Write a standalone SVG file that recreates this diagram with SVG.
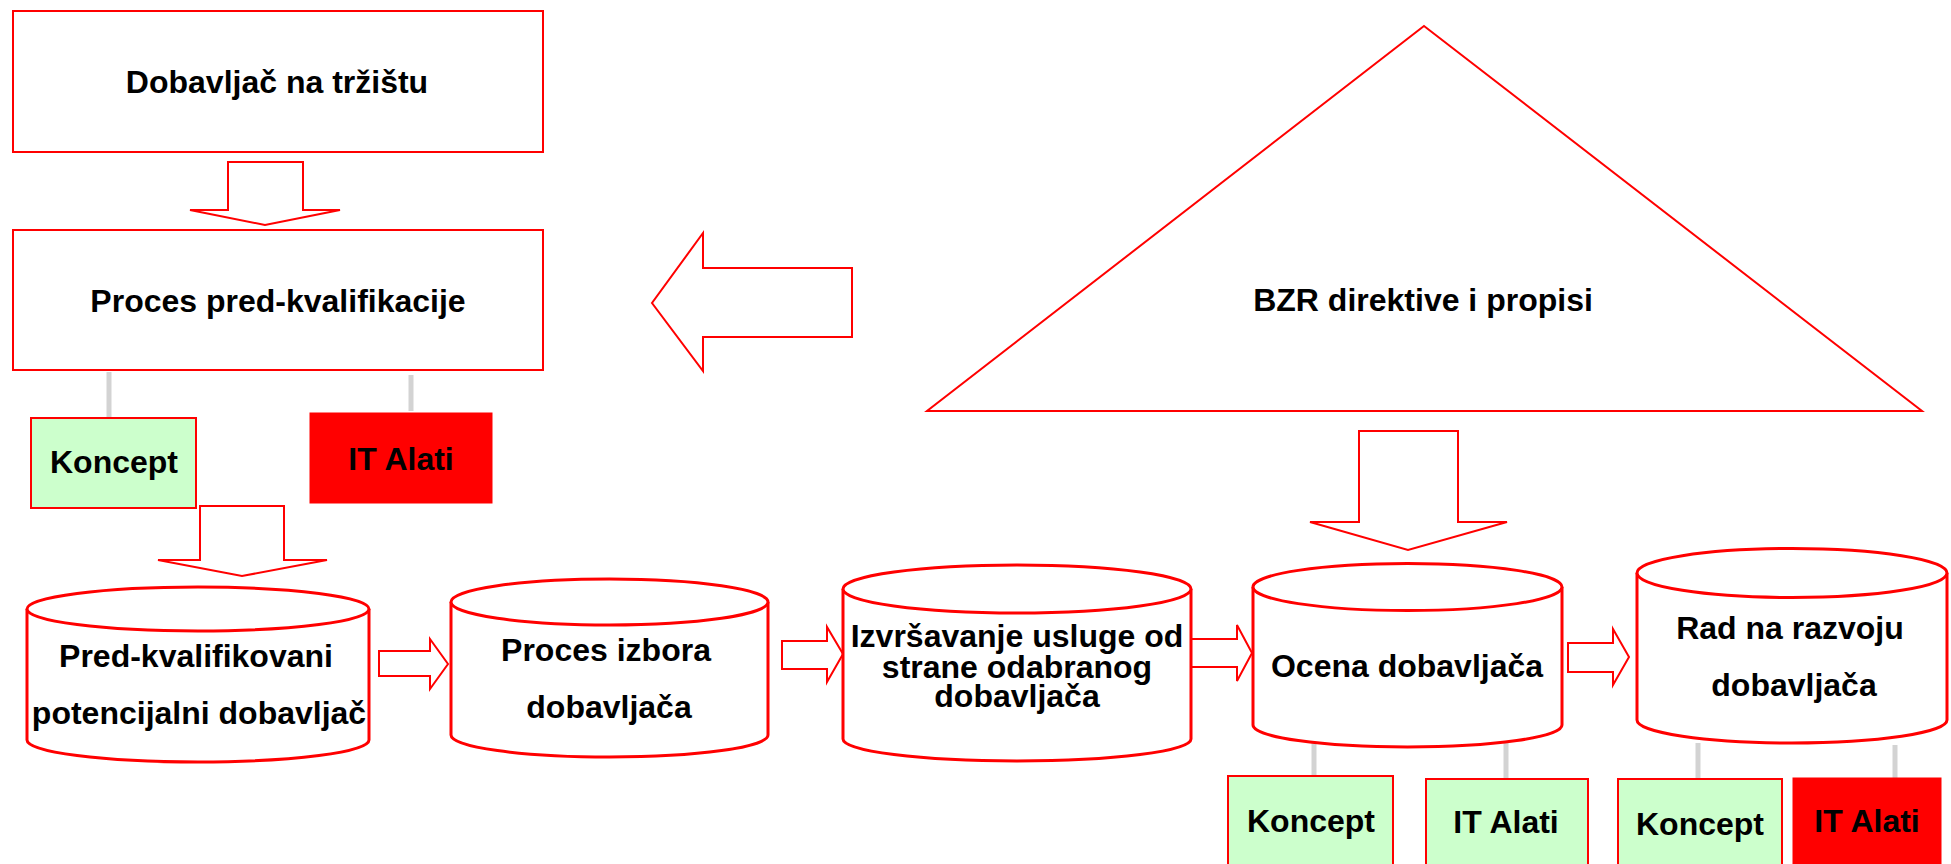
<svg xmlns="http://www.w3.org/2000/svg" width="1951" height="864" viewBox="0 0 1951 864">
<style>
.box{fill:#fff;stroke:#ff0000;stroke-width:2}
.green{fill:#ccffcc;stroke:#ff0000;stroke-width:2}
.red{fill:#ff0000;stroke:#ff0000;stroke-width:1}
.cyl{fill:#fff;stroke:#ff0000;stroke-width:3}
.arr{fill:#fff;stroke:#ff0000;stroke-width:2;stroke-linejoin:miter}
.link{stroke:#d3d3d3;stroke-width:5;fill:none}
text{font-family:"Liberation Sans",Arial,sans-serif;font-weight:bold;font-size:32px;fill:#000;text-anchor:middle}
</style>
<rect width="1951" height="864" fill="#fff"/>

<g id="connectors">
  <path class="arr" d="M228,162 H303 V210 H340 L265,225 L190,210 H228 Z"/>
  <path class="arr" d="M852,268 V337 H703 V371 L652,303 L703,233 V268 Z"/>
  <path class="arr" d="M200,506 H284 V560 H327 L242,576 L158,560 H200 Z"/>
  <path class="arr" d="M1359,431 H1458 V522 H1507 L1408,550 L1310,522 H1359 Z"/>
  <path class="arr" d="M379,651 H430 V639 L448,664 L430,689 V676 H379 Z"/>
  <path class="arr" d="M782,641 H827 V627 L843,654 L827,682 V669 H782 Z"/>
  <path class="arr" d="M1191,639 H1237 V625 L1252,653 L1237,681 V667 H1191 Z"/>
  <path class="arr" d="M1568,643 H1613 V629 L1629,657 L1613,685 V672 H1568 Z"/>
  <line class="link" x1="109" y1="372" x2="109" y2="418"/>
  <line class="link" x1="411" y1="375" x2="411" y2="411"/>
  <line class="link" x1="1314" y1="742" x2="1314" y2="776"/>
  <line class="link" x1="1506" y1="742" x2="1506" y2="779"/>
  <line class="link" x1="1698" y1="743" x2="1698" y2="779"/>
  <line class="link" x1="1895" y1="745" x2="1895" y2="778"/>
</g>

<g id="dobavljac-na-trzistu">
  <rect class="box" x="13" y="11" width="530" height="141"/>
  <text x="277" y="93">Dobavljač na tržištu</text>
</g>

<g id="proces-pred-kvalifikacije">
  <rect class="box" x="13" y="230" width="530" height="140"/>
  <text x="278" y="312">Proces pred-kvalifikacije</text>
</g>

<g id="koncept-1">
  <rect class="green" x="31" y="418" width="165" height="90"/>
  <text x="114" y="473">Koncept</text>
</g>

<g id="it-alati-1">
  <rect class="red" x="310" y="413" width="182" height="90"/>
  <text x="401" y="470">IT Alati</text>
</g>

<g id="bzr">
  <path class="box" d="M1424,26 L1922,411 H927 Z"/>
  <text x="1423" y="311">BZR direktive i propisi</text>
</g>

<g id="pred-kvalifikovani">
  <path class="cyl" d="M27,609 V740 A171,22 0 0 0 369,740 V609"/>
  <ellipse class="cyl" cx="198" cy="609" rx="171" ry="22"/>
  <text x="196" y="667">Pred-kvalifikovani</text>
  <text x="199" y="724">potencijalni dobavljač</text>
</g>

<g id="proces-izbora">
  <path class="cyl" d="M451,602 V735 A158.5,22 0 0 0 768,735 V602"/>
  <ellipse class="cyl" cx="609.5" cy="602" rx="158.5" ry="23"/>
  <text x="606" y="661">Proces izbora</text>
  <text x="609" y="718">dobavljača</text>
</g>

<g id="izvrsavanje">
  <path class="cyl" d="M843,589 V739 A174,22 0 0 0 1191,739 V589"/>
  <ellipse class="cyl" cx="1017" cy="589" rx="174" ry="24"/>
  <text x="1017" y="647">Izvršavanje usluge od</text>
  <text x="1017" y="678">strane odabranog </text>
  <text x="1017" y="707">dobavljača</text>
</g>

<g id="ocena">
  <path class="cyl" d="M1253,587 V725 A154.5,22 0 0 0 1562,725 V587"/>
  <ellipse class="cyl" cx="1407.5" cy="587" rx="154.5" ry="23.5"/>
  <text x="1407" y="677">Ocena dobavljača</text>
</g>

<g id="rad-na-razvoju">
  <path class="cyl" d="M1637,573 V720 A155,23 0 0 0 1947,720 V573"/>
  <ellipse class="cyl" cx="1792" cy="573" rx="155" ry="24.5"/>
  <text x="1790" y="639">Rad na razvoju</text>
  <text x="1794" y="696">dobavljača</text>
</g>

<g id="koncept-2">
  <rect class="green" x="1228" y="776" width="165" height="100"/>
  <text x="1311" y="832">Koncept</text>
</g>

<g id="it-alati-2">
  <rect class="green" x="1426" y="779" width="162" height="100"/>
  <text x="1506" y="833">IT Alati</text>
</g>

<g id="koncept-3">
  <rect class="green" x="1618" y="779" width="164" height="100"/>
  <text x="1700" y="835">Koncept</text>
</g>

<g id="it-alati-3">
  <rect class="red" x="1793" y="778" width="148" height="100"/>
  <text x="1867" y="832">IT Alati</text>
</g>
</svg>
